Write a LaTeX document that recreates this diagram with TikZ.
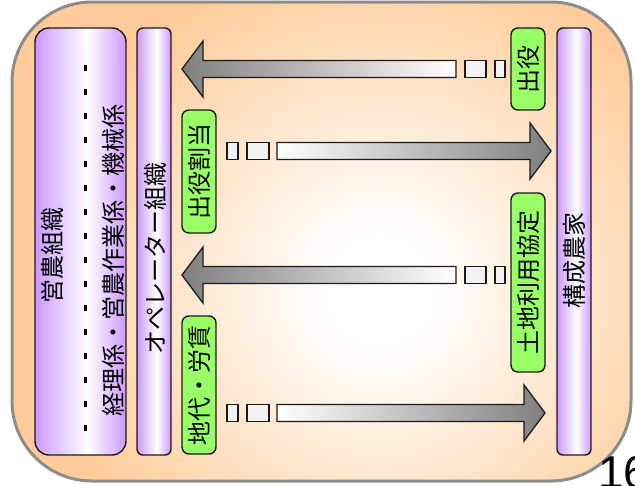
\documentclass[tikz,border=0pt]{standalone}
\usepackage{fontspec}
\newfontfamily\jp{Noto Sans CJK JP}
\newfontfamily\lsans{Liberation Sans}
\usetikzlibrary{calc}
\definecolor{peach}{HTML}{FFCC99}
\definecolor{purp}{HTML}{CC99FF}
\definecolor{lgreen}{HTML}{99FF66}
\definecolor{agray}{HTML}{7F7F7F}
\definecolor{edge}{HTML}{1A1A1A}
\pgfdeclarehorizontalshading{purpbar}{100bp}{color(0bp)=(purp); color(25bp)=(purp); color(54bp)=(white); color(75bp)=(purp); color(100bp)=(purp)}
\pgfdeclareradialshading{glow}{\pgfpoint{0bp}{0bp}}{color(0bp)=(white); color(4bp)=(white); color(25bp)=(peach); color(50bp)=(peach)}
\newcommand\leftarr[3]{%
  \shade[left color=agray, right color=white, draw=edge, line width=1.3pt, line join=miter]
  (#1,#2) -- ++(21,-28) -- ++(0,19.5) -- (#3,#2-8.5) -- (#3,#2+8.5) -- (#1+21,#2+8.5) -- ++(0,19.5) -- cycle;}
\newcommand\rightarr[3]{%
  \shade[left color=white, right color=agray, draw=edge, line width=1.3pt, line join=miter]
  (#1,#2) -- ++(-21,-28) -- ++(0,19.5) -- (#3,#2-8.5) -- (#3,#2+8.5) -- (#1-21,#2+8.5) -- ++(0,19.5) -- cycle;}
\begin{document}
\begin{tikzpicture}[x=1pt,y=-1pt,
  jtext/.style={font=\jp\fontsize{24}{24}\selectfont, inner sep=0pt, rotate=90},
  purpbox/.style={draw=edge, line width=1.4pt, shade, shading=purpbar, minimum height=427pt, inner sep=0pt},
  greenlabel/.style={draw=edge, line width=1.4pt, fill=lgreen, rounded corners=7pt, rotate=90,
    minimum height=34pt, inner sep=0pt, font=\jp\fontsize{24}{24}\selectfont},
  sq/.style={draw=edge, line width=1.3pt, fill=white!95!black}]
\useasboundingbox (0,0) rectangle (635,485);
% outer frame
\begin{scope}
  \clip[rounded corners=80pt] (12,2) rectangle (631,481);
  \fill[peach] (12,2) rectangle (631,481);
  \shade[shading=glow] (380,290) circle (340pt);
\end{scope}
\draw[rounded corners=80pt, line width=3pt, draw=black!45] (12,2) rectangle (631,481);

% purple boxes
\node (org) [purpbox, rounded corners=14pt, minimum width=91pt] at (80.5,241.5) {};
\node (op) [purpbox, rounded corners=6pt, minimum width=34pt] at (154,241.5) {};
\node (farm) [purpbox, rounded corners=6pt, minimum width=34pt] at (574,241.5) {};

\node (orgname) [jtext] at (52,255) {営農組織};
\draw[line width=3pt, dash pattern=on 6pt off 18pt] (85.5,65) -- (85.5,431);
\node (orgsub) [jtext] at (113,260) {経理係・営農作業係・機械係};
\node (opname) [jtext] at (155,258) {オペレーター組織};
\node (farmname) [jtext] at (574,260) {構成農家};

% green labels
\node (l1) [greenlabel, minimum width=82pt] at (528,69) {出役};
\node (l2) [greenlabel, minimum width=123pt] at (199,171.5) {出役割当};
\node (l3) [greenlabel, minimum width=179pt] at (528,282.5) {土地利用協定};
\node (l4) [greenlabel, minimum width=138pt] at (199,385) {地代・労賃};

% arrows
\leftarr{182}{69}{456}
\draw[sq] (465,60.5) rectangle (486,77.5);
\draw[sq] (495,60.5) rectangle (505,77.5);

\rightarr{551}{151}{277}
\draw[sq] (247,142.5) rectangle (269,159.5);
\draw[sq] (227,142.5) rectangle (238,159.5);

\leftarr{182}{275}{456}
\draw[sq] (465,266.5) rectangle (486,283.5);
\draw[sq] (495,266.5) rectangle (505,283.5);

\rightarr{545}{413}{277}
\draw[sq] (247,404.5) rectangle (269,421.5);
\draw[sq] (227,404.5) rectangle (238,421.5);

\node (pg) [anchor=base west, inner sep=0pt, font=\lsans\fontsize{46}{46}\selectfont] at (598,488) {16};
\end{tikzpicture}
\end{document}
